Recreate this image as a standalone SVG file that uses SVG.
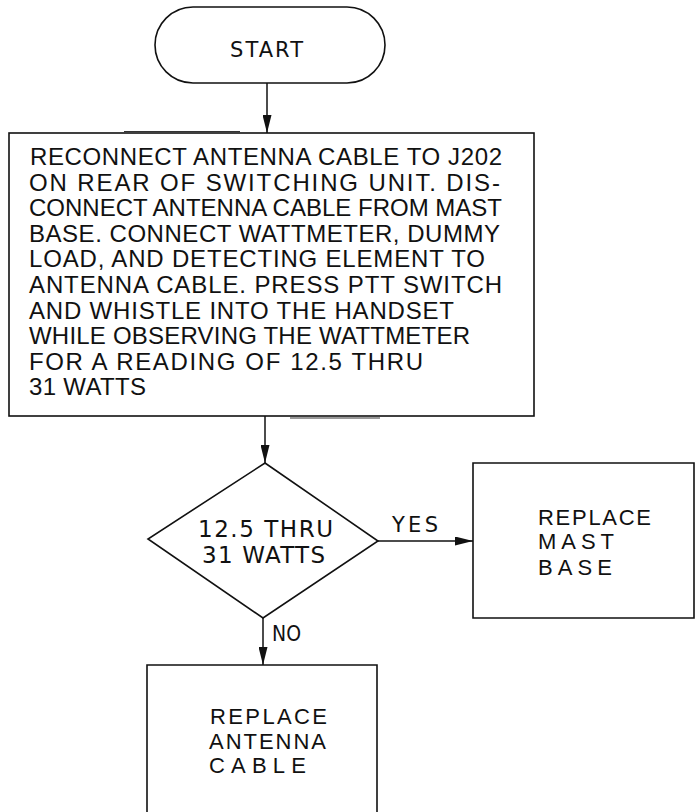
<svg xmlns="http://www.w3.org/2000/svg" width="695" height="812" viewBox="0 0 695 812">
<style>
.shape{fill:none;stroke:#111;stroke-width:1.6}
.conn{fill:none;stroke:#111;stroke-width:1.5}
.mark{fill:none;stroke:#333;stroke-width:1}
.body{font-family:"Liberation Sans",Arial,sans-serif;font-size:24px;fill:#111}
.lbl{font-family:"DejaVu Sans","Liberation Sans",sans-serif;font-size:21px;fill:#111}
.dec{font-family:"DejaVu Sans","Liberation Sans",sans-serif;font-size:23px;fill:#111}
.box{font-family:"Liberation Sans",Arial,sans-serif;font-size:22px;fill:#111}
</style>
<defs>
<marker id="arr" markerUnits="userSpaceOnUse" markerWidth="18" markerHeight="9" refX="18" refY="4.5" orient="auto" viewBox="0 0 18 9">
<path d="M0,0 L18,4.5 L0,9 z" fill="#111"/>
</marker>
</defs>
<rect width="695" height="812" fill="#fff"/>

<g id="start">
<rect class="shape" x="155" y="7" width="230" height="76" rx="38" ry="38"/>
<text class="lbl" x="230" y="57" textLength="73" lengthAdjust="spacing">START</text>
</g>

<g id="step1">
<rect class="shape" x="9" y="133" width="525" height="283"/>
<path class="mark" d="M124,131.5 L240,131.5 M290,418 L380,418"/>
<text class="body" x="30" y="165" textLength="472" lengthAdjust="spacing">RECONNECT ANTENNA CABLE TO J202</text>
<text class="body" x="29" y="190.6" textLength="471" lengthAdjust="spacing">ON REAR OF SWITCHING UNIT. DIS-</text>
<text class="body" x="29" y="216.2" textLength="473" lengthAdjust="spacing">CONNECT ANTENNA CABLE FROM MAST</text>
<text class="body" x="29" y="241.8" textLength="471" lengthAdjust="spacing">BASE. CONNECT WATTMETER, DUMMY</text>
<text class="body" x="29" y="267.4" textLength="456" lengthAdjust="spacing">LOAD, AND DETECTING ELEMENT TO</text>
<text class="body" x="29" y="293" textLength="473" lengthAdjust="spacing">ANTENNA CABLE. PRESS PTT SWITCH</text>
<text class="body" x="29" y="318.6" textLength="425" lengthAdjust="spacing">AND WHISTLE INTO THE HANDSET</text>
<text class="body" x="29" y="344.2" textLength="441" lengthAdjust="spacing">WHILE OBSERVING THE WATTMETER</text>
<text class="body" x="29" y="369.8" textLength="394" lengthAdjust="spacing">FOR A READING OF 12.5 THRU</text>
<text class="body" x="29" y="395.4" textLength="117" lengthAdjust="spacing">31 WATTS</text>
</g>

<g id="decision">
<polygon class="shape" points="265,463 378,541 263,618 148,539"/>
<text class="dec" x="198" y="537" textLength="135" lengthAdjust="spacing">12.5 THRU</text>
<text class="dec" x="202" y="563" textLength="123" lengthAdjust="spacing">31 WATTS</text>
</g>

<g id="replace-mast">
<path class="shape" d="M473,463 L473,618 L694,618 L694,463 Z"/>
<text class="box" x="538" y="525" textLength="113" lengthAdjust="spacing">REPLACE</text>
<text class="box" x="538" y="549" textLength="76" lengthAdjust="spacing">MAST</text>
<text class="box" x="538" y="575" textLength="74" lengthAdjust="spacing">BASE</text>
</g>

<g id="replace-cable">
<path class="shape" d="M147,812 L147,665 L377,665 L377,812"/>
<text class="box" x="210" y="724" textLength="117" lengthAdjust="spacing">REPLACE</text>
<text class="box" x="209" y="749" textLength="117" lengthAdjust="spacing">ANTENNA</text>
<text class="box" x="209" y="773" textLength="97" lengthAdjust="spacing">CABLE</text>
</g>

<g id="connectors">
<path class="conn" d="M267,83 L267,133" marker-end="url(#arr)"/>
<path class="conn" d="M265,416 L265,463" marker-end="url(#arr)"/>
<path class="conn" d="M378,541 L473,541" marker-end="url(#arr)"/>
<path class="conn" d="M263,618 L263,665" marker-end="url(#arr)"/>
<text class="lbl" x="392" y="532" textLength="46" lengthAdjust="spacing">YES</text>
<text class="lbl" x="272" y="641" textLength="29" lengthAdjust="spacingAndGlyphs">NO</text>
</g>
</svg>
